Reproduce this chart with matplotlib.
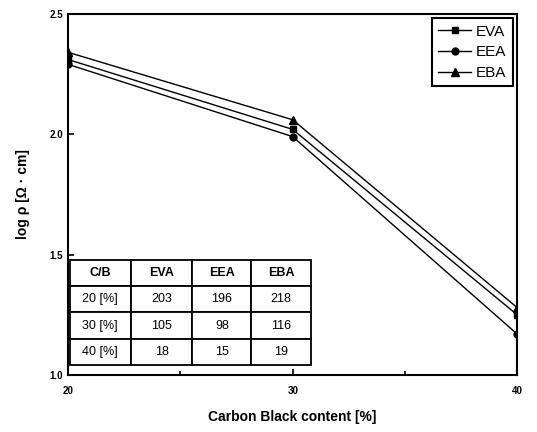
import numpy as np
import matplotlib.pyplot as plt

# data
cb = [20, 30, 40]
eva = [2.31, 2.02, 1.25]
eea = [2.29, 1.99, 1.17]
eba = [2.34, 2.06, 1.28]

col_labels = ["C/B", "EVA", "EEA", "EBA"]
row_labels = ["20 [%]", "30 [%]", "40 [%]"]
eva_tab = [203, 105, 18]
eea_tab = [196, 98, 15]
eba_tab = [218, 116, 19]

plt.rcParams['font.family'] = ['Liberation Sans', 'DejaVu Sans']

fig = plt.figure(figsize=(5.37, 4.32), dpi=100)
ax = fig.add_axes([0.127, 0.132, 0.836, 0.836])

ax.plot(cb, eva, color='black', lw=1.0, marker='s', ms=5, label='EVA')
ax.plot(cb, eea, color='black', lw=1.0, marker='o', ms=5, label='EEA')
ax.plot(cb, eba, color='black', lw=1.0, marker='^', ms=6, label='EBA')

ax.set_xlim(20, 40)
ax.set_ylim(1.0, 2.5)
ax.set_xticks([20, 30, 40])
ax.set_xticks([25, 35], minor=True)
ax.set_yticks([1.0, 1.5, 2.0, 2.5])
ax.set_yticklabels(['1.0', '1.5', '2.0', '2.5'])
ax.tick_params(direction='in', length=4, width=1.2, labelsize=7)
ax.tick_params(which='minor', direction='in', length=3, width=1.2)
for lab in ax.get_xticklabels() + ax.get_yticklabels():
    lab.set_fontweight('bold')
ax.xaxis.set_tick_params(pad=8)
for s in ax.spines.values():
    s.set_linewidth(1.5)

ax.set_xlabel('Carbon Black content [%]', fontsize=10, fontweight='bold', labelpad=10)
ax.set_ylabel('log ρ [Ω · cm]', fontsize=10, fontweight='bold', labelpad=14)

leg = ax.legend(loc='upper right', fontsize=11, handlelength=2.2, fancybox=False,
                edgecolor='black', framealpha=1, borderaxespad=0.3, labelspacing=0.45,
                handletextpad=0.3)
leg.get_frame().set_linewidth(1.5)

# table of values in the lower left
cells = [[row_labels[i], str(eva_tab[i]), str(eea_tab[i]), str(eba_tab[i])] for i in range(3)]
tab = ax.table(cellText=[col_labels] + cells, cellLoc='center',
               colWidths=[0.14, 0.14, 0.135, 0.135],
               bbox=[0.003, 0.028, 0.537, 0.29])
tab.auto_set_font_size(False)
tab.set_fontsize(9)
for (r, c), cell in tab.get_celld().items():
    cell.set_linewidth(1.3)
    cell.set_edgecolor('black')
    if r == 0:
        cell.get_text().set_fontweight('bold')

fig.savefig('out.png', dpi=100)
